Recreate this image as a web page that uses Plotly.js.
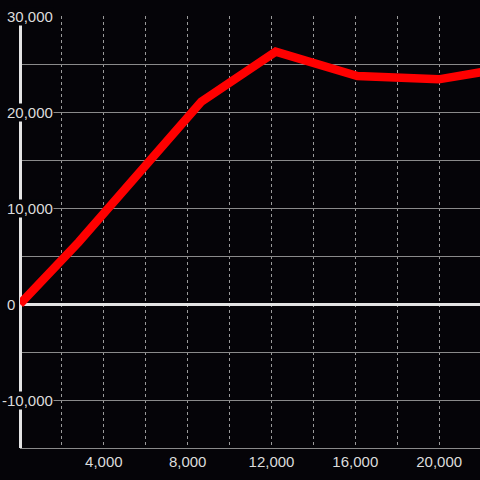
<!DOCTYPE html>
<html>
<head>
<meta charset="utf-8">
<script src="https://cdn.plot.ly/plotly-3.0.1.min.js"></script>
<style>
  html, body { margin: 0; padding: 0; background: #050408; }
  #chart { width: 480px; height: 480px; }
</style>
</head>
<body>
<div id="chart"></div>
<script>
// Data
var xValues = [0, 2800, 8650, 12200, 16100, 19980, 22000];
var yValues = [0, 6450, 21070, 26280, 23750, 23400, 24150];

// Axis ticks
var xTickVals = [4000, 8000, 12000, 16000, 20000];
var xTickText = ['4,000', '8,000', '12,000', '16,000', '20,000'];
var yLabelVals = [30000, 20000, 10000, 0, -10000];
var yLabelText = ['30,000', '20,000', '10,000', '0', '-10,000'];

var bg = '#050408';
var textColor = '#dcdcdc';
var font = { family: 'Liberation Sans, Arial, sans-serif', size: 15, color: textColor };

var annotations = yLabelVals.map(function (v, i) {
  var t = yLabelText[i];
  return {
    x: 0, xref: 'paper',
    y: v, yref: 'y',
    text: t,
    showarrow: false,
    xanchor: 'left', yanchor: 'middle',
    xshift: t.charAt(0) === '-' ? -19 : -14,
    bgcolor: bg,
    borderpad: 0,
    font: font
  };
});

var trace = {
  x: xValues,
  y: yValues,
  type: 'scatter',
  mode: 'lines',
  line: { color: '#ff0000', width: 8.5 },
  hoverinfo: 'skip'
};

var layout = {
  width: 480,
  height: 480,
  margin: { l: 20, r: 0, t: 16, b: 32, pad: 0 },
  paper_bgcolor: bg,
  plot_bgcolor: bg,
  showlegend: false,
  font: font,
  xaxis: {
    range: [0, 21950],
    tickvals: xTickVals,
    ticktext: xTickText,
    showgrid: true,
    gridcolor: '#9a9a9a',
    griddash: 'dot',
    gridwidth: 1,
    minor: { dtick: 2000, tick0: 0, showgrid: true, gridcolor: '#9a9a9a', griddash: 'dot', gridwidth: 1 },
    zeroline: true,
    zerolinecolor: '#e4e4e4',
    zerolinewidth: 3,
    showline: true,
    linecolor: '#8a8a8a',
    linewidth: 1,
    ticks: '',
    tickfont: font,
    fixedrange: true
  },
  yaxis: {
    range: [-15000, 30000],
    dtick: 5000,
    tick0: 0,
    showticklabels: false,
    showgrid: true,
    gridcolor: '#8a8a8a',
    gridwidth: 1,
    zeroline: true,
    zerolinecolor: '#e4e4e4',
    zerolinewidth: 3,
    showline: false,
    ticks: '',
    fixedrange: true
  },
  annotations: annotations
};

Plotly.newPlot('chart', [trace], layout, { staticPlot: true, displayModeBar: false });
</script>
</body>
</html>
